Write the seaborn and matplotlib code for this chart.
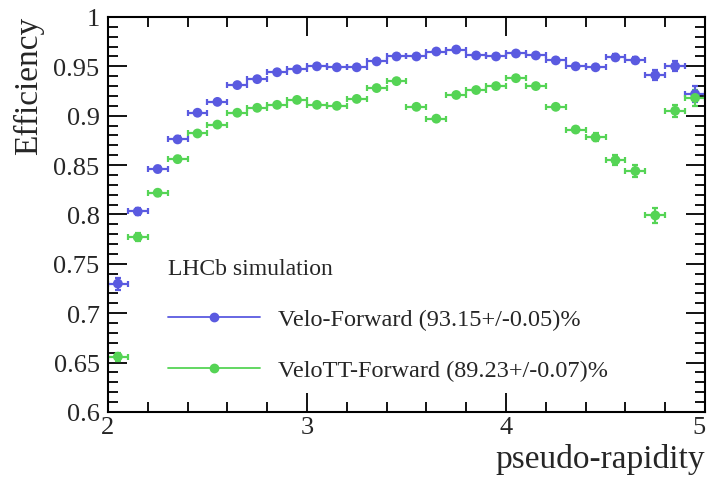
import numpy as np
import pandas as pd
import matplotlib
matplotlib.use("Agg")
import matplotlib.pyplot as plt
import seaborn as sns
from matplotlib.lines import Line2D
from matplotlib.ticker import MultipleLocator

eta = [2.05, 2.15, 2.25, 2.35, 2.45, 2.55, 2.65, 2.75, 2.85, 2.95,
       3.05, 3.15, 3.25, 3.35, 3.45, 3.55, 3.65, 3.75, 3.85, 3.95,
       4.05, 4.15, 4.25, 4.35, 4.45, 4.55, 4.65, 4.75, 4.85, 4.95]
velo_fwd = [0.730, 0.803, 0.846, 0.876, 0.903, 0.914, 0.931, 0.937, 0.944, 0.947,
            0.950, 0.949, 0.949, 0.955, 0.960, 0.960, 0.965, 0.967, 0.961, 0.960,
            0.963, 0.961, 0.956, 0.950, 0.949, 0.959, 0.956, 0.941, 0.950, 0.922]
velo_fwd_err = [0.006, 0.004, 0.003, 0.003, 0.002, 0.002, 0.002, 0.002, 0.002, 0.002,
                0.002, 0.002, 0.002, 0.002, 0.002, 0.002, 0.002, 0.002, 0.002, 0.002,
                0.002, 0.002, 0.002, 0.002, 0.002, 0.003, 0.003, 0.005, 0.005, 0.008]
velott_fwd = [0.656, 0.777, 0.822, 0.856, 0.882, 0.891, 0.903, 0.908, 0.911, 0.916,
              0.911, 0.910, 0.917, 0.928, 0.935, 0.909, 0.897, 0.921, 0.926, 0.930,
              0.938, 0.930, 0.909, 0.886, 0.878, 0.855, 0.844, 0.799, 0.905, 0.918]
velott_fwd_err = [0.004, 0.004, 0.003, 0.003, 0.002, 0.002, 0.002, 0.002, 0.002, 0.002,
                  0.002, 0.002, 0.002, 0.002, 0.002, 0.002, 0.002, 0.002, 0.002, 0.002,
                  0.002, 0.002, 0.002, 0.003, 0.004, 0.005, 0.006, 0.008, 0.006, 0.008]
bin_half = 0.05
labels = ["Velo-Forward (93.15+/-0.05)%", "VeloTT-Forward (89.23+/-0.07)%"]
colors = ["#5a5ae0", "#55d455"]

df = pd.concat([
    pd.DataFrame({"eta": eta, "eff": velo_fwd, "err": velo_fwd_err, "series": labels[0]}),
    pd.DataFrame({"eta": eta, "eff": velott_fwd, "err": velott_fwd_err, "series": labels[1]}),
])

sns.set_theme(style="ticks")
plt.rcParams["font.family"] = ["Liberation Serif", "DejaVu Serif"]

fig = plt.figure(figsize=(7.1, 4.85), dpi=100)
ax = fig.add_axes([0.152, 0.1485, 0.841, 0.8145])

for lab, col in zip(labels, colors):
    sub = df[df["series"] == lab]
    ax.errorbar(sub["eta"], sub["eff"], xerr=bin_half, yerr=sub["err"], fmt="none",
                ecolor=col, elinewidth=1.6, capsize=2.5, capthick=1.6, zorder=2)
sns.scatterplot(data=df, x="eta", y="eff", hue="series", palette=colors,
                s=50, edgecolor="none", legend=False, ax=ax, zorder=3)

ax.set_xlim(2, 5)
ax.set_ylim(0.6, 1.0)
ax.xaxis.set_minor_locator(MultipleLocator(0.2))
ax.yaxis.set_minor_locator(MultipleLocator(0.01))
ax.set_xticks([2, 3, 4, 5])
ax.set_xticklabels(["2", "3", "4", "5"])
ax.set_yticks([0.6, 0.65, 0.7, 0.75, 0.8, 0.85, 0.9, 0.95, 1.0])
ax.set_yticklabels(["0.6", "0.65", "0.7", "0.75", "0.8", "0.85", "0.9", "0.95", "1"])
ax.tick_params(which="both", direction="in", top=True, right=True, labelsize=19,
               color="black", width=1.3)
ax.tick_params(which="major", length=14)
ax.tick_params(which="minor", length=7)
ax.tick_params(axis="x", which="major", pad=3)
ax.tick_params(axis="y", which="major", pad=6)
ax.get_xticklabels()[-1].set_horizontalalignment("right")
for s in ax.spines.values():
    s.set_linewidth(1.5)
    s.set_color("black")

ax.set_xlabel("")
ax.set_ylabel("")
fig.text(0.993, 0.02, "pseudo-rapidity", ha="right", va="bottom", fontsize=24)
fig.text(0.018, 0.965, "Efficiency", ha="left", va="top", rotation=90, fontsize=24)

handles = [Line2D([0], [0], color=c, lw=1.3, marker="o", markersize=6) for c in colors]
leg = ax.legend(handles, labels, title="LHCb simulation", loc="upper left",
                bbox_to_anchor=(0.1, 0.39), frameon=False, fontsize=17.5,
                title_fontsize=17, handlelength=3.8, handletextpad=0.75,
                labelspacing=1.2, numpoints=1, borderpad=0, borderaxespad=0)
leg._legend_box.align = "left"

fig.savefig("out.png", dpi=100)
